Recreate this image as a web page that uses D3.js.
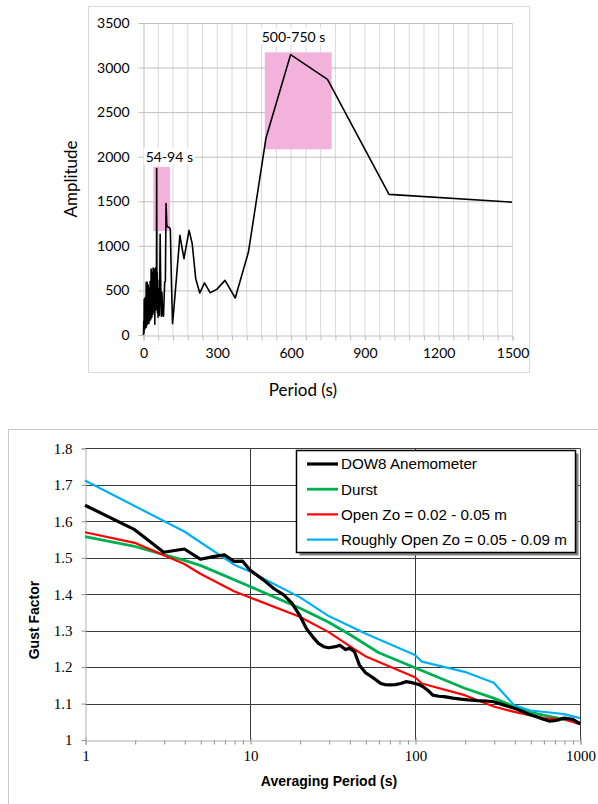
<!DOCTYPE html>
<html>
<head>
<meta charset="utf-8">
<script src="https://cdnjs.cloudflare.com/ajax/libs/d3/7.8.5/d3.min.js"></script>
<style>
  html, body { margin: 0; padding: 0; background: #fff; }
  svg { display: block; }
</style>
</head>
<body>
<svg id="chart" width="598" height="804"></svg>
<script>
// ---- top chart: amplitude vs period ----
const periods = [2, 3, 4, 5, 6, 7, 8, 9, 10, 11, 12, 13, 14, 15, 16, 17, 18, 19, 20, 21,
  22, 23, 24, 25, 26, 27, 28, 29, 30, 31, 32, 33, 34, 35, 36, 37, 38, 39, 40, 41,
  42, 43, 44, 45, 46, 47, 48, 49, 50, 51, 52, 53, 53.6, 54.5, 55.6, 56.6, 57.7, 58.8, 60, 61.2,
  62.5, 63.8, 65.2, 66.7, 68.2, 69.8, 71.4, 73.2, 75, 76.9, 78.9, 81.1, 83.3, 85.7, 88.2, 90.9,
  93.75, 96.8, 100, 103.4, 107.1, 111.1, 115.4, 120, 125, 130.4, 136.4, 142.9, 150, 157.9, 166.7,
  176.5, 187.5, 200, 214.3, 230.8, 250, 272.7, 300, 333.3, 375, 428.6, 500, 600, 750, 1000, 1500];
const amplitudes = [0, 150, 20, 400, 60, 350, 100, 420, 80, 300, 150, 590, 90, 500, 200, 590, 120, 450, 150, 560,
  180, 400, 130, 520, 220, 480, 160, 600, 250, 450, 180, 740, 260, 520, 200, 700, 300, 600, 230, 750,
  350, 500, 260, 740, 300, 600, 120, 700, 400, 750, 280, 500, 300, 420, 1867, 380, 700, 250, 620, 200,
  450, 250, 520, 220, 600, 1130, 700, 400, 210, 480, 300, 220, 210, 400, 595, 600,
  1474, 1230, 1212, 1210, 1205, 1190, 620, 128, 277, 456, 655, 872, 1118, 990, 857,
  1010, 1174, 1025, 632, 471, 584, 475, 512, 613, 415, 931, 2210, 3145, 2868, 1578, 1490];

const periodTicks = [0, 300, 600, 900, 1200, 1500];
const amplitudeTicks = [0, 500, 1000, 1500, 2000, 2500, 3000, 3500];

const bandLabels = ['54-94 s', '500-750 s'];
const bandStart = [42, 495];
const bandEnd = [110, 767];
const bandLow = [1167, 2083];
const bandHigh = [1885, 3171];
const bandLabelX = [107, 612];
const bandLabelY = [2000, 3345];

// ---- bottom chart: gust factor vs averaging period ----
const dow8Period = [1, 2, 3, 4, 5, 6, 7, 8, 9, 10, 12, 14, 16, 18, 20, 22, 24, 26, 28, 30,
  33, 35, 38, 40, 43, 46, 50, 54, 58, 62, 66, 70, 76, 82, 88, 94, 100, 106, 112, 120,
  128, 140, 150, 170, 190, 210, 240, 270, 300, 340, 400, 450, 500, 550, 600, 650, 700, 750, 800, 900, 1000];
const dow8Gust = [1.644, 1.577, 1.515, 1.524, 1.496, 1.503, 1.508, 1.490, 1.491, 1.466, 1.440, 1.415, 1.398, 1.375, 1.342, 1.305, 1.283, 1.265, 1.256, 1.253,
  1.256, 1.260, 1.248, 1.252, 1.242, 1.206, 1.185, 1.175, 1.165, 1.155, 1.152, 1.151, 1.152, 1.155, 1.160, 1.158, 1.155, 1.152, 1.146, 1.136,
  1.123, 1.120, 1.119, 1.115, 1.112, 1.110, 1.108, 1.107, 1.105, 1.097, 1.087, 1.078, 1.069, 1.063, 1.057, 1.052, 1.053, 1.056, 1.060, 1.057, 1.044];

const durstPeriod = [1, 2, 4, 5, 10, 20, 30, 40, 60, 100, 200, 300, 400, 500, 600, 1000];
const durstGust = [1.558, 1.531, 1.493, 1.479, 1.421, 1.362, 1.323, 1.290, 1.240, 1.198, 1.142, 1.115, 1.092, 1.076, 1.068, 1.048];

const openPeriod = [1, 2, 4, 5, 8, 10, 20, 30, 40, 50, 100, 110, 200, 300, 400, 600, 800, 1000];
const openGust = [1.570, 1.541, 1.483, 1.456, 1.408, 1.391, 1.338, 1.296, 1.258, 1.230, 1.172, 1.155, 1.123, 1.092, 1.077, 1.060, 1.057, 1.043];

const roughPeriod = [1, 4, 8, 10, 20, 30, 50, 100, 110, 200, 300, 400, 500, 700, 800, 1000];
const roughGust = [1.712, 1.572, 1.481, 1.462, 1.392, 1.340, 1.292, 1.233, 1.215, 1.187, 1.157, 1.095, 1.081, 1.074, 1.071, 1.060];

const seriesNames = ['DOW8 Anemometer', 'Durst', 'Open Zo = 0.02 - 0.05 m', 'Roughly Open Zo = 0.05 - 0.09 m'];
const seriesColors = ['#000000', '#00b050', '#ff0000', '#00b0f0'];
const gustTicks = [1, 1.1, 1.2, 1.3, 1.4, 1.5, 1.6, 1.7, 1.8];
const averagingTicks = [1, 10, 100, 1000];

const svg = d3.select('#chart');

// ================= TOP CHART =================
const x1 = d3.scaleLinear().domain([0, 1500]).range([143, 512]);
const y1 = d3.scaleLinear().domain([0, 3500]).range([335, 23]);

svg.append('rect')
  .attr('x', 88.5).attr('y', 6.5)
  .attr('width', 441).attr('height', 366)
  .attr('fill', 'none').attr('stroke', '#d9d9d9');

const topG = svg.append('g');

topG.append('g')
  .selectAll('line')
  .data(d3.range(60, 1501, 60))
  .enter().append('line')
  .attr('x1', d => x1(d) + 0.5).attr('x2', d => x1(d) + 0.5)
  .attr('y1', y1(3500)).attr('y2', y1(0))
  .attr('stroke', '#d9d9d9');

topG.append('g')
  .selectAll('line')
  .data(amplitudeTicks.slice(1))
  .enter().append('line')
  .attr('x1', x1(0)).attr('x2', x1(1500))
  .attr('y1', d => y1(d) + 0.5).attr('y2', d => y1(d) + 0.5)
  .attr('stroke', '#bfbfbf');

const xAxis1 = d3.axisBottom(x1)
  .tickValues(d3.range(0, 1501, 60))
  .tickSize(5)
  .tickFormat(d => periodTicks.includes(d) ? d : '');
const yAxis1 = d3.axisLeft(y1)
  .tickValues(amplitudeTicks)
  .tickSize(5)
  .tickPadding(9)
  .tickFormat(d3.format('d'));

const gx1 = topG.append('g')
  .attr('transform', `translate(0.5,${y1(0) + 0.5})`)
  .call(xAxis1);
const gy1 = topG.append('g')
  .attr('transform', `translate(${x1(0) + 0.5},0)`)
  .call(yAxis1);

[gx1, gy1].forEach(g => {
  g.select('.domain').attr('stroke', '#bfbfbf');
  g.selectAll('.tick line').attr('stroke', '#bfbfbf');
  g.selectAll('text')
    .attr('font-family', 'Lato, "Open Sans", sans-serif')
    .attr('font-size', 14)
    .attr('fill', '#000');
});
gx1.selectAll('text').attr('dy', '1.05em');

// highlighted bands
topG.append('g')
  .selectAll('rect')
  .data(bandLabels)
  .enter().append('rect')
  .attr('x', (d, i) => x1(bandStart[i]))
  .attr('y', (d, i) => y1(bandHigh[i]))
  .attr('width', (d, i) => x1(bandEnd[i]) - x1(bandStart[i]))
  .attr('height', (d, i) => y1(bandLow[i]) - y1(bandHigh[i]))
  .attr('fill', '#f2b2db');

const line1 = d3.line()
  .x((d, i) => x1(periods[i]))
  .y(d => y1(d));

topG.append('path')
  .datum(amplitudes)
  .attr('d', line1)
  .attr('fill', 'none')
  .attr('stroke', '#000')
  .attr('stroke-width', 1.6)
  .attr('stroke-linejoin', 'round');

const bandText = topG.append('g')
  .selectAll('g')
  .data(bandLabels)
  .enter().append('g');

bandText.append('rect').attr('fill', '#fff');
bandText.append('text')
  .attr('x', (d, i) => x1(bandLabelX[i]))
  .attr('y', (d, i) => y1(bandLabelY[i]))
  .attr('text-anchor', 'middle')
  .attr('dy', '0.35em')
  .attr('font-family', 'Lato, "Open Sans", sans-serif')
  .attr('font-size', 14)
  .text(d => d);
bandText.each(function () {
  const b = d3.select(this).select('text').node().getBBox();
  d3.select(this).select('rect')
    .attr('x', b.x - 2).attr('y', b.y)
    .attr('width', b.width + 4).attr('height', b.height);
});

topG.append('text')
  .attr('transform', `translate(77,${(y1(0) + y1(3500)) / 2}) rotate(-90)`)
  .attr('text-anchor', 'middle')
  .attr('font-family', 'Lato, "Open Sans", sans-serif')
  .attr('font-size', 17)
  .text('Amplitude');

topG.append('text')
  .attr('x', 303).attr('y', 396)
  .attr('text-anchor', 'middle')
  .attr('font-family', 'Lato, "Open Sans", sans-serif')
  .attr('font-size', 17)
  .text('Period (s)');

// ================= BOTTOM CHART =================
const x2 = d3.scaleLog().domain([1, 1000]).range([85, 580]);
const y2 = d3.scaleLinear().domain([1, 1.8]).range([740, 448.4]);

svg.append('rect')
  .attr('x', 8.5).attr('y', 429.5)
  .attr('width', 600).attr('height', 400)
  .attr('fill', 'none').attr('stroke', '#c8c8c8');

const botG = svg.append('g');

botG.append('g')
  .selectAll('line')
  .data(gustTicks.slice(1))
  .enter().append('line')
  .attr('x1', x2(1)).attr('x2', x2(1000))
  .attr('y1', d => Math.round(y2(d)) + 0.5).attr('y2', d => Math.round(y2(d)) + 0.5)
  .attr('stroke', '#3a3a3a');

botG.append('g')
  .selectAll('line')
  .data(averagingTicks.slice(1))
  .enter().append('line')
  .attr('x1', d => Math.round(x2(d)) + 0.5).attr('x2', d => Math.round(x2(d)) + 0.5)
  .attr('y1', y2(1.8)).attr('y2', y2(1))
  .attr('stroke', '#3a3a3a');

const minorTicks = [];
[1, 10, 100].forEach(dec => d3.range(2, 10).forEach(m => minorTicks.push(dec * m)));

const xAxis2 = d3.axisBottom(x2)
  .tickValues(averagingTicks.concat(minorTicks))
  .tickSize(4)
  .tickPadding(6)
  .tickFormat(d => averagingTicks.includes(d) ? d : '');
const yAxis2 = d3.axisLeft(y2)
  .tickValues(gustTicks)
  .tickSize(4)
  .tickPadding(9)
  .tickFormat(d => d === 1 ? '1' : d3.format('.1f')(d));

const gx2 = botG.append('g')
  .attr('transform', `translate(0.5,${Math.round(y2(1)) + 0.5})`)
  .call(xAxis2);
const gy2 = botG.append('g')
  .attr('transform', `translate(${Math.round(x2(1)) + 0.5},0)`)
  .call(yAxis2);

[gx2, gy2].forEach(g => {
  g.select('.domain').attr('stroke', '#b0b0b0');
  g.selectAll('.tick line').attr('stroke', '#909090');
  g.selectAll('text')
    .attr('font-family', '"Liberation Serif", "Times New Roman", serif')
    .attr('font-size', 15)
    .attr('fill', '#000');
});
gx2.selectAll('.tick')
  .filter(d => averagingTicks.includes(d))
  .select('line').attr('y1', -3);

const seriesPeriods = [dow8Period, durstPeriod, openPeriod, roughPeriod];
const seriesGusts = [dow8Gust, durstGust, openGust, roughGust];
const seriesWidths = [3.2, 2.8, 2.2, 2.2];
const drawOrder = [1, 2, 3, 0];

drawOrder.forEach(s => {
  const line2 = d3.line()
    .x((d, i) => x2(seriesPeriods[s][i]))
    .y(d => y2(d));
  botG.append('path')
    .datum(seriesGusts[s])
    .attr('d', line2)
    .attr('fill', 'none')
    .attr('stroke', seriesColors[s])
    .attr('stroke-width', seriesWidths[s])
    .attr('stroke-linejoin', 'round');
});

// legend
const legend = botG.append('g');
legend.append('rect')
  .attr('x', 299.5).attr('y', 453.5)
  .attr('width', 279).attr('height', 102)
  .attr('fill', '#808080');
legend.append('rect')
  .attr('x', 296.5).attr('y', 450.5)
  .attr('width', 279).attr('height', 102)
  .attr('fill', '#fff').attr('stroke', '#000').attr('stroke-width', 1.5);

const items = legend.selectAll('.item')
  .data(seriesNames)
  .enter().append('g')
  .attr('class', 'item')
  .attr('transform', (d, i) => `translate(0,${464 + i * 25.2})`);
items.append('line')
  .attr('x1', 307).attr('x2', 338)
  .attr('stroke', (d, i) => seriesColors[i])
  .attr('stroke-width', (d, i) => seriesWidths[i]);
items.append('text')
  .attr('x', 341)
  .attr('dy', '0.36em')
  .attr('font-family', '"Liberation Sans", Arial, sans-serif')
  .attr('font-size', 15.2)
  .text(d => d);

botG.append('text')
  .attr('transform', `translate(39,620) rotate(-90)`)
  .attr('text-anchor', 'middle')
  .attr('font-family', '"Liberation Sans", Arial, sans-serif')
  .attr('font-weight', 'bold')
  .attr('font-size', 14)
  .text('Gust Factor');

botG.append('text')
  .attr('x', 329).attr('y', 786)
  .attr('text-anchor', 'middle')
  .attr('font-family', '"Liberation Sans", Arial, sans-serif')
  .attr('font-weight', 'bold')
  .attr('font-size', 14)
  .text('Averaging Period (s)');
</script>
</body>
</html>
